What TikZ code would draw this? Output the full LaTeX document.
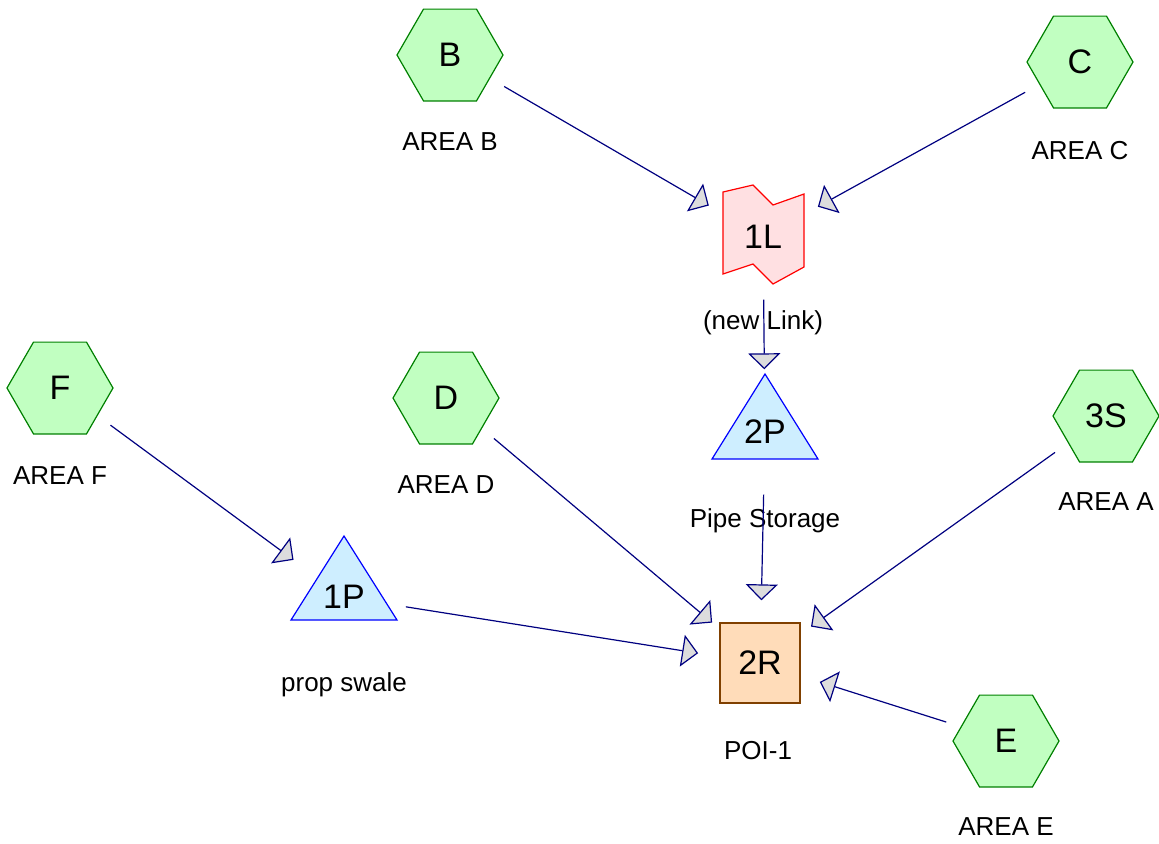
\documentclass[tikz,border=0pt]{standalone}
\usepackage{fontspec}
\setmainfont{Liberation Sans}
\usetikzlibrary{arrows.meta, shapes.geometric}

\definecolor{areafill}{RGB}{193,255,193}
\definecolor{areadraw}{RGB}{0,128,0}
\definecolor{pipefill}{RGB}{206,238,255}
\definecolor{pipedraw}{RGB}{0,0,255}
\definecolor{linkfill}{RGB}{255,224,226}
\definecolor{linkdraw}{RGB}{255,0,0}
\definecolor{outfill}{RGB}{255,220,185}
\definecolor{outdraw}{RGB}{128,64,0}
\definecolor{conduit}{RGB}{0,0,128}
\definecolor{tipfill}{RGB}{221,221,221}

\tikzset{
  big/.style={font=\fontsize{25.5}{30}\selectfont},
  caption/.style={font=\fontsize{19.5}{23}\selectfont, inner sep=0pt},
  area/.style={big, regular polygon, regular polygon sides=6, minimum size=79.5pt,
    inner sep=0pt, draw=areadraw, fill=areafill, line width=0.9pt},
  outfall/.style={big, rectangle, minimum size=60pt, inner sep=0pt,
    draw=outdraw, fill=outfill, line width=0.9pt},
  conn/.style={draw=conduit, line width=0.9pt, shorten <=47pt, shorten >=47pt,
    -{Triangle[length=12pt, width=24pt, fill=tipfill]}},
}

\begin{document}
\begin{tikzpicture}[x=0.75pt,y=0.75pt,yscale=-1,xscale=1]
\useasboundingbox (0,0) rectangle (1159,843);

%Shape: Hexagon (subcatchments)
\node[area] (B) at (450,55) {B};
\node[area] (C) at (1080,62) {C};
\node[area] (F) at (60,388) {F};
\node[area] (D) at (446,398) {D};
\node[area] (S3) at (1106,416) {3S};
\node[area] (E) at (1006,741) {E};

%Shape: Link 1L
\draw [draw=linkdraw, fill=linkfill, line width=0.9pt] (723,192) -- (753,185) -- (773,205) -- (804,194) -- (804,267) -- (773,284) -- (753,264) -- (723,274) -- cycle ;
\node[big] (L1) at (763,237) {1L};

%Shape: Triangle 2P
\draw [draw=pipedraw, fill=pipefill, line width=0.9pt] (712,459) -- (765,374) -- (818,459) -- cycle ;
\node[big] (P2) at (765,432) {2P};

%Shape: Triangle 1P
\draw [draw=pipedraw, fill=pipefill, line width=0.9pt] (291,620) -- (344,536) -- (397,620) -- cycle ;
\node[big] (P1) at (344,597) {1P};

%Shape: Square 2R
\node[outfall] (R2) at (760,663) {2R};

% Text Node
\node[caption] (capB) at (450,142) {AREA B};
\node[caption] (capC) at (1080,151) {AREA C};
\node[caption] (capF) at (60,476) {AREA F};
\node[caption] (capD) at (446,485) {AREA D};
\node[caption] (capS3) at (1106,502) {AREA A};
\node[caption] (capE) at (1006,827) {AREA E};
\node[caption] (capL1) at (763,323) {(new Link)};
\node[caption] (capP2) at (765,521) {Pipe Storage};
\node[caption] (capP1) at (344,685) {prop swale};
\node[caption] (capR2) at (758,751) {POI-1};

%Straight Lines
\draw[conn] (B.center) -- (L1.center);
\draw[conn] (C.center) -- (L1.center);
\draw[conn] (L1.center) -- (P2.center);
\draw[conn] (P2.center) -- (R2.center);
\draw[conn] (F.center) -- (P1.center);
\draw[conn] (P1.center) -- (R2.center);
\draw[conn] (D.center) -- (R2.center);
\draw[conn] (S3.center) -- (R2.center);
\draw[conn] (E.center) -- (R2.center);

\end{tikzpicture}
\end{document}
